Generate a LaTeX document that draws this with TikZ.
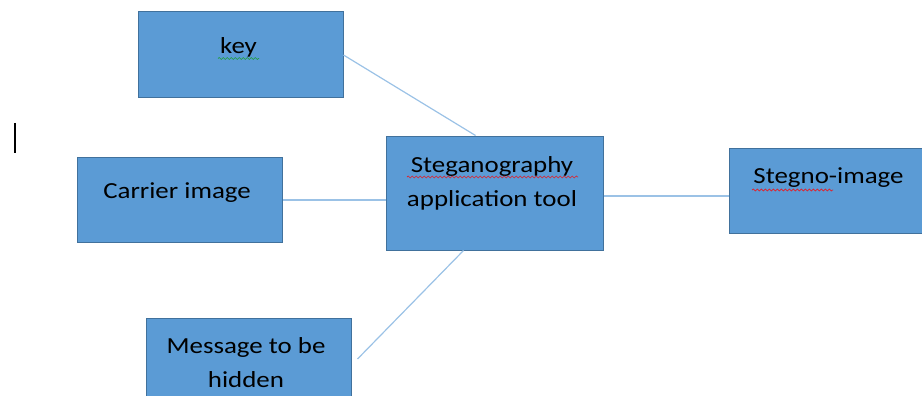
\documentclass[tikz,border=0pt]{standalone}
\usepackage{fontspec}
\setmainfont[FakeStretch=1.17]{Carlito}
\usetikzlibrary{decorations.pathmorphing}
\definecolor{boxfill}{HTML}{5B9BD5}
\definecolor{boxline}{HTML}{41719C}
\definecolor{conn}{HTML}{9BC2E6}
\definecolor{spellred}{HTML}{E0202A}
\definecolor{spellgreen}{HTML}{1E9E3A}
\tikzset{
  box/.style={draw=boxline, fill=boxfill, line width=1pt, rectangle, inner sep=0pt},
  lbl/.style={anchor=base, inner sep=0pt, text=black, font=\fontsize{23}{34}\selectfont, align=center},
  connector/.style={draw=conn, line width=1.2pt},
  squig/.style={line width=0.7pt, decorate, decoration={snake, segment length=4pt, amplitude=1pt}},
}
\begin{document}
\begin{tikzpicture}[x=1pt, y=-1pt]
\useasboundingbox (0,0) rectangle (922,396);
\clip (0,0) rectangle (922,396);
% boxes
\node[box, minimum width=205pt, minimum height=86pt] (key) at (240.5,55) {};
\node[box, minimum width=205pt, minimum height=85pt] (carrier) at (180,200) {};
\node[box, minimum width=217pt, minimum height=114pt] (steg) at (494.5,193) {};
\node[box, minimum width=202pt, minimum height=85pt] (stegno) at (830,190.5) {};
\node[box, minimum width=205pt, minimum height=90pt] (msg) at (248.5,363) {};
% connectors
\draw[connector] (key.east) -- ([xshift=-19pt]steg.north);
\draw[connector] (carrier.east) -- (carrier.east -| steg.west);
\draw[connector] ([yshift=-3pt]steg.east) -- ([yshift=-3pt]steg.east -| stegno.west);
\draw[connector] ([xshift=6pt,yshift=4pt]msg.east) -- ([xshift=-31pt]steg.south);
% labels (anchor base = baseline of the last line)
\node[lbl] (keyt) at (238.5,54) {key};
\node[lbl] (carriert) at (177,198) {Carrier image};
\node[lbl] (stegt) at (492,206.5) {Steganography\\application tool};
\node[lbl] (stegnot) at (828.5,183) {Stegno-image};
\node[lbl] (msgt) at (246,387) {Message to be\\hidden};
% spell-check underlines
\draw[squig, spellgreen] (218,58.5) -- (259,58.5);
\draw[squig, spellred] (407,177) -- (578,177);
\draw[squig, spellred] (752,190) -- (833,190);
% text cursor
\draw[line width=2.5pt, black] (15,123) -- (15,153);
\end{tikzpicture}
\end{document}
